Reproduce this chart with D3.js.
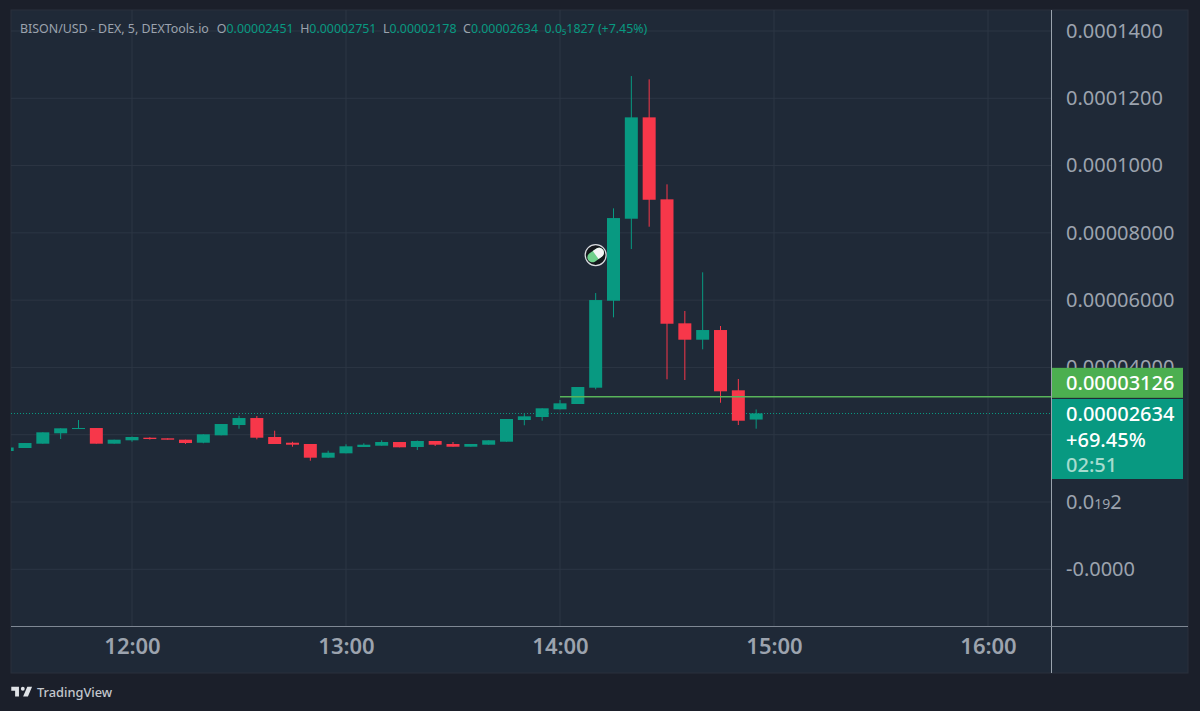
<!DOCTYPE html>
<html>
<head>
<meta charset="utf-8">
<script src="https://cdn.jsdelivr.net/npm/d3@7"></script>
<style>
	html, body { margin: 0; padding: 0; background: #1b1f2a; overflow: hidden; }
	svg { display: block; }
	text { font-family: "Noto Sans", sans-serif; }
	.axis_price text { font-size: 20px; fill: #9ca3ae; }
	.axis_time text { font-size: 22px; font-weight: 600; fill: #9ca3ae; }
	.axis_price path, .axis_time path { display: none; }
</style>
</head>
<body>
<div id="div_id_main"></div>
<script>

// 5 minute candles
const g_vTimes = ["11:25", "11:30", "11:35", "11:40", "11:45", "11:50", "11:55", "12:00", "12:05", "12:10", "12:15",
					"12:20", "12:25", "12:30", "12:35", "12:40", "12:45", "12:50", "12:55", "13:00", "13:05", "13:10",
					"13:15", "13:20", "13:25", "13:30", "13:35", "13:40", "13:45", "13:50", "13:55", "14:00", "14:05",
					"14:10", "14:15", "14:20", "14:25", "14:30", "14:35", "14:40", "14:45", "14:50", "14:55"];

const g_vOpen = [0.00001516, 0.00001605, 0.00001733, 0.00002042, 0.00002170, 0.00002199, 0.00001733, 0.00001834, 0.00001911, 0.00001893, 0.00001852,
					0.00001762, 0.00001982, 0.00002288, 0.00002496, 0.00001932, 0.00001762, 0.00001724, 0.00001317, 0.00001447, 0.00001635, 0.00001673,
					0.00001783, 0.00001635, 0.00001813, 0.00001724, 0.00001643, 0.00001703, 0.00001792, 0.00002437, 0.00002526, 0.00002755, 0.00002913,
					0.00003397, 0.00005983, 0.00008420, 0.00011433, 0.00008996, 0.00005311, 0.00004824, 0.00005112, 0.00003320, 0.00002451];

const g_vHigh = [0.00001640, 0.00001753, 0.00002071, 0.00002190, 0.00002437, 0.00002199, 0.00001852, 0.00001945, 0.00001925, 0.00001893, 0.00001852,
					0.00002012, 0.00002318, 0.00002565, 0.00002556, 0.00002119, 0.00001790, 0.00001724, 0.00001525, 0.00001715, 0.00001745, 0.00001834,
					0.00001783, 0.00001825, 0.00001813, 0.00001783, 0.00001724, 0.00001834, 0.00002467, 0.00002645, 0.00002785, 0.00003031, 0.00003418,
					0.00006211, 0.00008729, 0.00012661, 0.00012563, 0.00009442, 0.00005677, 0.00006827, 0.00005231, 0.00003656, 0.00002751];

const g_vLow = [0.00001500, 0.00001605, 0.00001733, 0.00001872, 0.00002170, 0.00001733, 0.00001733, 0.00001792, 0.00001855, 0.00001852, 0.00001724,
					0.00001745, 0.00001982, 0.00002178, 0.00001863, 0.00001724, 0.00001643, 0.00001227, 0.00001317, 0.00001447, 0.00001635, 0.00001673,
					0.00001626, 0.00001545, 0.00001664, 0.00001643, 0.00001643, 0.00001703, 0.00001792, 0.00002280, 0.00002416, 0.00002755, 0.00002913,
					0.00003349, 0.00005489, 0.00007519, 0.00008182, 0.00003647, 0.00003626, 0.00004538, 0.00002951, 0.00002288, 0.00002178];

const g_vClose = [0.00001620, 0.00001753, 0.00002071, 0.00002190, 0.00002199, 0.00001733, 0.00001852, 0.00001932, 0.00001872, 0.00001852, 0.00001753,
					0.00002012, 0.00002318, 0.00002496, 0.00001911, 0.00001724, 0.00001703, 0.00001317, 0.00001465, 0.00001655, 0.00001703, 0.00001783,
					0.00001626, 0.00001813, 0.00001703, 0.00001643, 0.00001724, 0.00001834, 0.00002467, 0.00002547, 0.00002785, 0.00002933, 0.00003418,
					0.00006003, 0.00008440, 0.00011433, 0.00008984, 0.00005299, 0.00004824, 0.00005112, 0.00003290, 0.00002416, 0.00002634];

const g_vPriceTicks = [0.00014, 0.00012, 0.00010, 0.00008, 0.00006, 0.00004, 0.00002, 0, -0.00002];
const g_vPriceLabels = ["0.0001400", "0.0001200", "0.0001000", "0.00008000", "0.00006000", "0.00004000", "", "0.0|19|2", "-0.0000"];
const g_vTimeTicks = ["12:00", "13:00", "14:00", "15:00", "16:00"];

const g_vLegendHead = ["BISON/USD - DEX, 5, DEXTools.io"];
const g_vLegendNames = ["O", "H", "L", "C"];
const g_vLegendValues = ["0.00002451", "0.00002751", "0.00002178", "0.00002634"];
const g_sLegendChange = "0.0\u20851827 (+7.45%)";

const g_fPriceLine = 0.00003126;
const g_fPriceLast = 0.00002634;
const g_sLineStart = "14:00";
const g_vLastBadge = ["0.00002634", "+69.45%", "02:51"];
const g_sMarkerTime = "14:10";
const g_fMarkerPrice = 0.00007341;

// ---------------------------------------------------

const WIDTH = 1200, HEIGHT = 711;
const PANE_L = 11, PANE_R = 1051, PANE_T = 10, PANE_B = 626, AXIS_R = 1188, AXIS_B = 673;

const COLOR_UP = "#089981", COLOR_DOWN = "#f7374a", COLOR_PANE = "#1f2937", COLOR_GRID = "#2c3644";
const COLOR_LINE = "#58b45a";

const fParse = d3.timeParse("%H:%M");

const fScale_Time = d3.scaleTime()
						.domain([fParse("12:00"), fParse("16:00")])
						.range([132, 988]);

const fScale_Price = d3.scaleLinear()
						.domain([0, 0.00014])
						.range([502, 31]);

const CANDLE_WIDTH = 13;

let dsCandles = g_vTimes.map(function(t, i) {
	return { time: fParse(t), open: g_vOpen[i], high: g_vHigh[i], low: g_vLow[i], close: g_vClose[i] };
});

let svgMain = d3.select("#div_id_main")
				.append("svg")
					.attr("width", WIDTH)
					.attr("height", HEIGHT);

// panes -----------------------------------------------

svgMain.append("rect")
			.attr("x", PANE_L).attr("y", PANE_T)
			.attr("width", AXIS_R - PANE_L).attr("height", AXIS_B - PANE_T)
			.attr("fill", COLOR_PANE)
			.attr("stroke", "#2a303c");

svgMain.append("clipPath")
			.attr("id", "clip_id_pane")
			.append("rect")
				.attr("x", PANE_L).attr("y", PANE_T)
				.attr("width", PANE_R - PANE_L).attr("height", PANE_B - PANE_T);

// grid ------------------------------------------------

let gGrid = svgMain.append("g");

gGrid.selectAll("line.h")
	.data(g_vPriceTicks)
	.enter()
		.append("line")
			.attr("x1", PANE_L).attr("x2", PANE_R)
			.attr("y1", function(d) { return fScale_Price(d); })
			.attr("y2", function(d) { return fScale_Price(d); })
			.attr("stroke", COLOR_GRID);

gGrid.selectAll("line.v")
	.data(g_vTimeTicks)
	.enter()
		.append("line")
			.attr("y1", PANE_T).attr("y2", PANE_B)
			.attr("x1", function(d) { return fScale_Time(fParse(d)); })
			.attr("x2", function(d) { return fScale_Time(fParse(d)); })
			.attr("stroke", COLOR_GRID);

// last price dotted line, behind the candles
svgMain.append("line")
			.attr("x1", PANE_L).attr("x2", PANE_R)
			.attr("y1", Math.round(fScale_Price(g_fPriceLast)) + 0.5).attr("y2", Math.round(fScale_Price(g_fPriceLast)) + 0.5)
			.attr("stroke", COLOR_UP)
			.attr("stroke-width", 1)
			.attr("stroke-dasharray", "1 2");

// candles ---------------------------------------------

let gCandles = svgMain.append("g").attr("clip-path", "url(#clip_id_pane)");

gCandles.selectAll("line.wick")
	.data(dsCandles)
	.enter()
		.append("line")
			.attr("class", "wick")
			.attr("x1", function(d) { return fScale_Time(d.time); })
			.attr("x2", function(d) { return fScale_Time(d.time); })
			.attr("y1", function(d) { return fScale_Price(d.high); })
			.attr("y2", function(d) { return fScale_Price(d.low); })
			.attr("stroke", function(d) { return d.close >= d.open ? COLOR_UP : COLOR_DOWN; })
			.attr("stroke-width", 1);

gCandles.selectAll("rect.body")
	.data(dsCandles)
	.enter()
		.append("rect")
			.attr("class", "body")
			.attr("x", function(d) { return fScale_Time(d.time) - CANDLE_WIDTH / 2; })
			.attr("width", CANDLE_WIDTH)
			.attr("y", function(d) { return fScale_Price(Math.max(d.open, d.close)); })
			.attr("height", function(d) { return Math.max(1, Math.abs(fScale_Price(d.open) - fScale_Price(d.close))); })
			.attr("fill", function(d) { return d.close >= d.open ? COLOR_UP : COLOR_DOWN; });

// green price line
svgMain.append("line")
			.attr("x1", fScale_Time(fParse(g_sLineStart))).attr("x2", PANE_R)
			.attr("y1", fScale_Price(g_fPriceLine)).attr("y2", fScale_Price(g_fPriceLine))
			.attr("stroke", COLOR_LINE)
			.attr("stroke-width", 1.5);

// pill marker -----------------------------------------

let gMarker = svgMain.append("g")
				.attr("transform", "translate(" + fScale_Time(fParse(g_sMarkerTime)) + "," + fScale_Price(g_fMarkerPrice) + ")");

gMarker.append("circle").attr("r", 10.5).attr("fill", "#14171c").attr("stroke", "#d8dbe0").attr("stroke-width", 1.2);

let gPill = gMarker.append("g").attr("transform", "rotate(-35)");

gPill.append("rect").attr("x", -9).attr("y", -5).attr("width", 18).attr("height", 10).attr("rx", 5).attr("fill", "#6fd08c");
gPill.append("path").attr("d", "M0,-5 H4 A5,5 0 0 1 4,5 H0 Z").attr("fill", "#f4f5f6");

// axes ------------------------------------------------

let gAxisPrice = svgMain.append("g")
					.attr("class", "axis_price")
					.attr("transform", "translate(" + PANE_R + ",0)")
					.call(d3.axisRight(fScale_Price)
							.tickValues(g_vPriceTicks)
							.tickSize(0)
							.tickPadding(15)
							.tickFormat(function(d, i) { return g_vPriceLabels[i]; }));

// small subscript in the label near zero
gAxisPrice.selectAll(".tick text").each(function() {

	let s = d3.select(this).text();

	if (s.indexOf("|") < 0) return;

	let v = s.split("|");
	let t = d3.select(this).text(null);

	t.append("tspan").text(v[0]);
	t.append("tspan").attr("font-size", "14px").text(v[1]);
	t.append("tspan").text(v[2]);
});

svgMain.append("g")
			.attr("class", "axis_time")
			.attr("transform", "translate(0," + PANE_B + ")")
			.call(d3.axisBottom(fScale_Time)
					.tickValues(g_vTimeTicks.map(fParse))
					.tickSize(0)
					.tickPadding(12)
					.tickFormat(d3.timeFormat("%H:%M")));

// pane borders
svgMain.append("line")
			.attr("x1", PANE_R + 0.5).attr("x2", PANE_R + 0.5)
			.attr("y1", PANE_T).attr("y2", AXIS_B)
			.attr("stroke", "#9aa3ad");

svgMain.append("line")
			.attr("x1", PANE_L).attr("x2", AXIS_R)
			.attr("y1", PANE_B + 0.5).attr("y2", PANE_B + 0.5)
			.attr("stroke", "#7f8894");

// badges ----------------------------------------------

svgMain.append("rect")
			.attr("x", PANE_R + 1).attr("y", fScale_Price(g_fPriceLine) - 29)
			.attr("width", 131).attr("height", 30)
			.attr("fill", "#4caf50");

svgMain.append("text")
			.attr("x", 1066).attr("y", 383)
			.attr("dy", "0.35em")
			.attr("font-size", 20).attr("font-weight", 500)
			.attr("fill", "#ffffff")
			.text(d3.format(".8f")(g_fPriceLine));

svgMain.append("rect")
			.attr("x", PANE_R + 1).attr("y", 399)
			.attr("width", 131).attr("height", 80)
			.attr("fill", COLOR_UP);

svgMain.selectAll("text.badge")
	.data(g_vLastBadge)
	.enter()
		.append("text")
			.attr("class", "badge")
			.attr("x", 1066)
			.attr("y", function(d, i) { return 414 + i * 25.5; })
			.attr("dy", "0.35em")
			.attr("font-size", 20).attr("font-weight", 500)
			.attr("fill", function(d, i) { return i == 2 ? "#a6dccf" : "#ffffff"; })
			.text(function(d) { return d; });

// legend ----------------------------------------------

let gLegend = svgMain.append("text")
				.attr("x", 20).attr("y", 33)
				.attr("font-size", 12.4);

gLegend.append("tspan").attr("fill", "#9ca3ae").text(g_vLegendHead[0]);

g_vLegendNames.forEach(function(s, i) {

	gLegend.append("tspan").attr("dx", i == 0 ? 8 : 6.5).attr("fill", "#9ca3ae").text(s);
	gLegend.append("tspan").attr("fill", COLOR_UP).text(g_vLegendValues[i]);
});

gLegend.append("tspan").attr("dx", 6.5).attr("fill", COLOR_UP).text(g_sLegendChange);

// footer logo -----------------------------------------

svgMain.append("path")
			.attr("transform", "translate(10,683) scale(0.64)")
			.attr("d", "M14 6H2v6h6v9h6V6zm14 15h-7.5L27 6h7.5L28 21zm-8-9a3 3 0 1 0 0-6 3 3 0 0 0 0 6z")
			.attr("fill", "#dfe2e6");

svgMain.append("text")
			.attr("x", 37).attr("y", 697)
			.attr("font-size", 12.8).attr("font-weight", 500)
			.attr("fill", "#c3c7cd")
			.text("TradingView");

</script>
</body>
</html>
